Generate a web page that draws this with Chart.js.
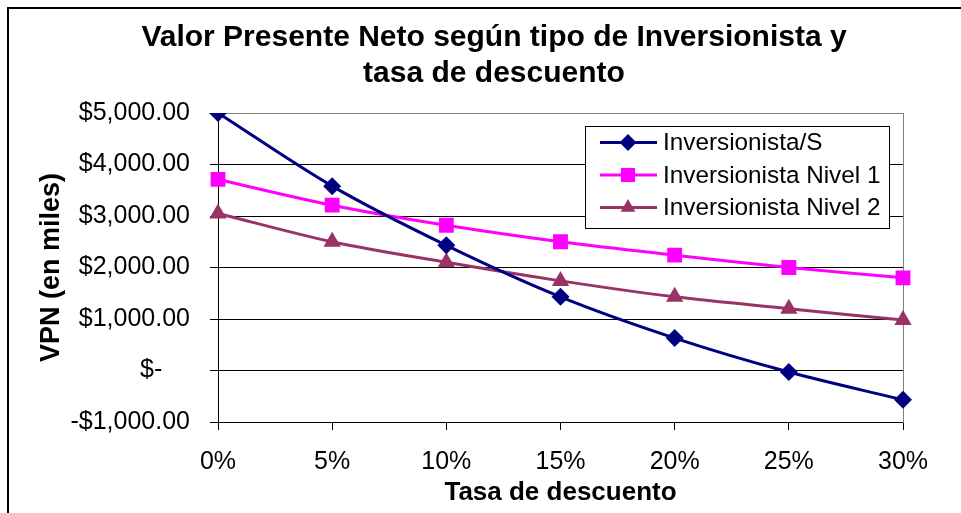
<!DOCTYPE html>
<html>
<head>
<meta charset="utf-8">
<script src="https://cdn.jsdelivr.net/npm/chart.js@4/dist/chart.umd.min.js"></script>
<style>
  body { margin: 0; background: #fff; }
  #wrap { width: 961px; height: 513px; }
</style>
</head>
<body>
<div id="wrap"><canvas id="vpnChart"></canvas></div>
<script>
const tasas = ['0%', '5%', '10%', '15%', '20%', '25%', '30%'];
const inversionistaS = [5000, 3580, 2430, 1430, 630, -30, -570];
const inversionistaN1 = [3710, 3210, 2820, 2500, 2240, 2000, 1800];
const inversionistaN2 = [3050, 2500, 2100, 1740, 1430, 1200, 980];
const serieNombres = ['Inversionista/S', 'Inversionista Nivel 1', 'Inversionista Nivel 2'];

const FONT = '"Liberation Sans", Arial, sans-serif';
Chart.defaults.font.family = FONT;
Chart.defaults.color = '#000';

// Excel accounting-style labels
function money(v) {
  if (v === 0) return '$-    ';
  const s = '$' + Math.abs(v).toFixed(2).replace(/\B(?=(\d{3})+(?!\d))/g, ',');
  return v < 0 ? '-' + s : s;
}

function drawMarker(ctx, style, x, y, r) {
  ctx.beginPath();
  if (style === 'rectRot') {
    ctx.moveTo(x, y - r); ctx.lineTo(x + r, y); ctx.lineTo(x, y + r); ctx.lineTo(x - r, y);
  } else if (style === 'rect') {
    const h = r * Math.SQRT1_2;
    ctx.rect(x - h, y - h, 2 * h, 2 * h);
  } else {
    ctx.moveTo(x, y - r);
    ctx.lineTo(x + r * 0.866, y + r * 0.5);
    ctx.lineTo(x - r * 0.866, y + r * 0.5);
  }
  ctx.closePath();
  ctx.fill();
}

// frame round the whole chart (only top and left are inside the picture)
const frame = {
  id: 'frame',
  beforeDraw(chart) {
    const ctx = chart.ctx;
    ctx.save();
    ctx.fillStyle = '#fff';
    ctx.fillRect(0, 0, chart.width, chart.height);
    ctx.strokeStyle = '#000';
    ctx.lineWidth = 2;
    ctx.beginPath();
    ctx.moveTo(8, chart.height);
    ctx.lineTo(8, 8);
    ctx.lineTo(chart.width, 8);
    ctx.stroke();
    ctx.restore();
  }
};

// legend box drawn inside the plot area, like Excel does
const boxLegend = {
  id: 'boxLegend',
  afterDraw(chart) {
    const ctx = chart.ctx;
    const area = chart.chartArea;
    const w = 304, h = 102;
    const left = area.right - 14 - w;
    const top = area.top + 13;
    ctx.save();
    ctx.fillStyle = '#fff';
    ctx.fillRect(left, top, w, h);
    ctx.strokeStyle = '#000';
    ctx.lineWidth = 1;
    ctx.strokeRect(left + 0.5, top + 0.5, w, h);
    ctx.font = '24.3px ' + FONT;
    ctx.textBaseline = 'middle';
    chart.data.datasets.forEach((ds, i) => {
      const y = top + 16.5 + i * 32.5;
      ctx.strokeStyle = ds.borderColor;
      ctx.lineWidth = 3;
      ctx.beginPath();
      ctx.moveTo(left + 15, y);
      ctx.lineTo(left + 72, y);
      ctx.stroke();
      ctx.fillStyle = ds.borderColor;
      drawMarker(ctx, ds.pointStyle, left + 43, y, ds.pointStyle === 'rect' ? 10 : 8.5);
      ctx.fillStyle = '#000';
      ctx.fillText(ds.label, left + 78, y + 1);
    });
    ctx.restore();
  }
};

new Chart(document.getElementById('vpnChart'), {
  type: 'line',
  data: {
    labels: tasas,
    datasets: [
      {
        label: serieNombres[0],
        data: inversionistaS,
        borderColor: '#000080',
        pointStyle: 'rectRot',
        pointRadius: 9
      },
      {
        label: serieNombres[1],
        data: inversionistaN1,
        borderColor: '#FF00FF',
        pointStyle: 'rect',
        pointRadius: 10.5
      },
      {
        label: serieNombres[2],
        data: inversionistaN2,
        borderColor: '#993366',
        pointStyle: 'triangle',
        pointRadius: 10
      }
    ].map(d => Object.assign(d, {
      backgroundColor: d.borderColor,
      borderWidth: 3,
      tension: 0.33,
      fill: false,
      pointBorderWidth: 0,
      pointBackgroundColor: d.borderColor
    }))
  },
  options: {
    responsive: true,
    maintainAspectRatio: false,
    animation: false,
    layout: { padding: { left: 37, right: 10, top: 0, bottom: 0 } },
    plugins: {
      legend: { display: false },
      tooltip: { enabled: false },
      title: {
        display: true,
        text: ['Valor Presente Neto según tipo de Inversionista y', 'tasa de descuento'],
        font: { size: 30, weight: 'bold', lineHeight: 1.2 },
        color: '#000',
        padding: { top: 20, bottom: 21 }
      }
    },
    scales: {
      x: {
        offset: false,
        grid: { drawOnChartArea: false, drawTicks: true, tickLength: 8, color: '#000' },
        border: { color: '#000', width: 1 },
        ticks: { font: { size: 25 }, padding: 17, maxRotation: 0 },
        title: {
          display: true,
          text: 'Tasa de descuento',
          font: { size: 26, weight: 'bold', lineHeight: 1.2 },
          padding: { top: 0, bottom: 5 }
        },
        afterFit(scale) { scale.height = 91; }
      },
      y: {
        min: -1000,
        max: 5000,
        ticks: { stepSize: 1000, font: { size: 25 }, padding: 20, callback: v => money(v) },
        grid: {
          color: ctx => (ctx.tick && ctx.tick.value === 5000) ? '#808080' : '#000',
          lineWidth: 1,
          tickLength: 8
        },
        border: { color: '#000', width: 1 },
        title: {
          display: true,
          text: 'VPN (en miles)',
          font: { size: 27, weight: 'bold', lineHeight: 1 },
          padding: { top: 1, bottom: 0 }
        },
        afterFit(scale) { scale.width = 181; }
      },
      y2: {
        position: 'right',
        min: -1000,
        max: 5000,
        grid: { display: false },
        ticks: { display: false },
        border: { color: '#808080', width: 1 },
        afterFit(scale) { scale.width = 48; }
      }
    }
  },
  plugins: [frame, boxLegend]
});
</script>
</body>
</html>
